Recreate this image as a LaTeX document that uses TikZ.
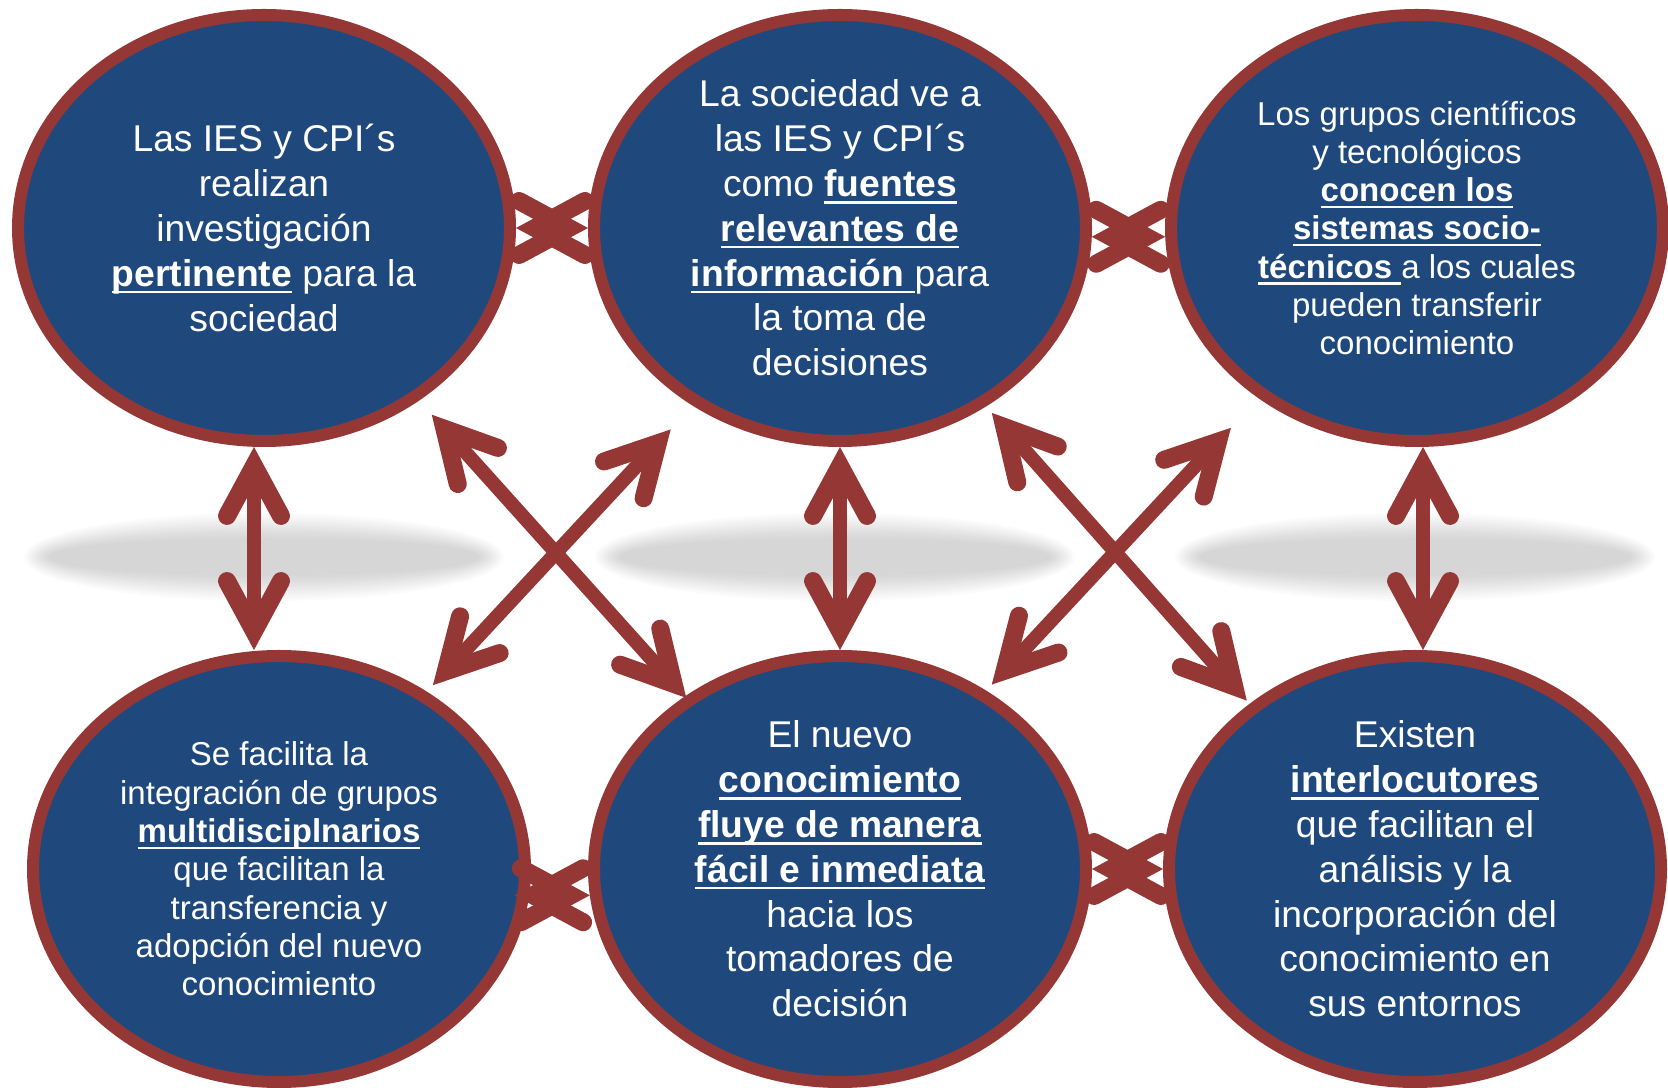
\documentclass[tikz,border=0pt]{standalone}
\usepackage{fontspec}
\setmainfont{Liberation Sans}
\usetikzlibrary{arrows.meta,shapes.geometric}
\definecolor{bluefill}{RGB}{31,73,125}
\definecolor{rimred}{RGB}{149,55,53}
\newsavebox{\kwbox}
\newcommand{\keyword}[1]{\sbox{\kwbox}{\textbf{#1}}\rlap{\rule[-0.19em]{\wd\kwbox}{0.065em}}\usebox{\kwbox}}

\begin{document}
\begin{tikzpicture}[
    bubble/.style={ellipse, draw=rimred, fill=bluefill, line width=0.12cm,
        minimum width=4.92cm, minimum height=4.26cm, inner sep=0pt},
    bigtext/.style={text=white, align=center, font=\fontsize{10.6}{12.75}\selectfont},
    smalltext/.style={text=white, align=center, font=\fontsize{9.4}{10.9}\selectfont},
    rimbarb/.tip={Straight Barb[length=0.50cm, width=0.54cm, line width=0.18cm, line cap=round, line join=miter]},
    link/.style={draw=rimred, line width=0.14cm, {rimbarb}-{rimbarb}}
]
    \useasboundingbox (0,0) rectangle (16.68,10.88);

    \foreach \x in {2.64,8.35,14.15}
        \foreach \d in {0,0.025,...,0.25}
            \fill[black, opacity=0.017] (\x,5.31) ellipse [x radius=2.40-\d, y radius=0.44-\d];

    \node[bubble] (tl) at (2.64,8.60) {};
    \node[bubble] (tm) at (8.40,8.60) {};
    \node[bubble] (tr) at (14.17,8.60) {};
    \node[bubble] (bl) at (2.79,2.19) {};
    \node[bubble] (bm) at (8.40,2.19) {};
    \node[bubble] (br) at (14.15,2.19) {};

    \node[bigtext] (tl-text) at (tl) {Las IES y CPI´s\\ realizan\\ investigación\\ \keyword{pertinente} para la\\ sociedad};
    \node[bigtext] (tm-text) at (tm) {La sociedad ve a\\ las IES y CPI´s\\ como \keyword{fuentes}\\ \keyword{relevantes de}\\ \keyword{información }para\\ la toma de\\ decisiones};
    \node[smalltext] (tr-text) at (tr) {Los grupos científicos\\ y tecnológicos\\ \keyword{conocen los}\\ \keyword{sistemas socio-}\\ \keyword{técnicos }a los cuales\\ pueden transferir\\ conocimiento};
    \node[smalltext] (bl-text) at (bl) {Se facilita la\\ integración de grupos\\ \keyword{multidisciplnarios}\\ que facilitan la\\ transferencia y\\ adopción del nuevo\\ conocimiento};
    \node[bigtext] (bm-text) at (bm) {El nuevo\\ \keyword{conocimiento}\\ \keyword{fluye de manera}\\ \keyword{fácil e inmediata}\\ hacia los\\ tomadores de\\ decisión};
    \node[bigtext] (br-text) at (br) {Existen\\ \keyword{interlocutores}\\ que facilitan el\\ análisis y la\\ incorporación del\\ conocimiento en\\ sus entornos};

    \draw[link] (tl) -- (tm);
    \draw[link] (tm.-2) -- (tr.182);
    \draw[link, shorten <=-0.15cm] (bl.-6) -- (bm.186);
    \draw[link] (bm) -- (br);

    \coordinate (lx) at (2.54,0);
    \coordinate (rx) at (14.23,0);
    \draw[link] (tl.south -| lx) -- (bl.north -| lx);
    \draw[link] (tm) -- (bm);
    \draw[link] (tr.south -| rx) -- (br.north -| rx);

    \draw[link, shorten <=2.51cm, shorten >=2.75cm] ([xshift=-0.17cm]bl.center) -- ([xshift=0.18cm]tm.center);
    \draw[link, shorten <=2.51cm, shorten >=2.30cm] (tl.center) -- (bm.center);
    \draw[link, shorten <=2.52cm, shorten >=2.73cm] ([xshift=-0.20cm]bm.center) -- (tr.center);
    \draw[link, shorten <=2.47cm, shorten >=2.25cm] ([xshift=-0.12cm]tm.center) -- ([xshift=-0.19cm]br.center);
\end{tikzpicture}
\end{document}
